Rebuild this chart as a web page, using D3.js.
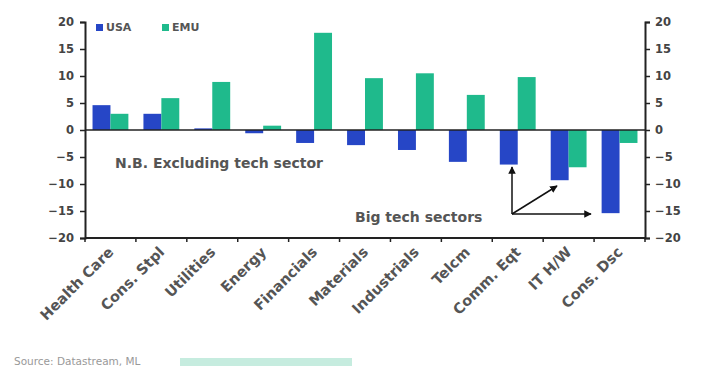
<!DOCTYPE html>
<html>
<head>
<meta charset="utf-8">
<script src="https://cdn.jsdelivr.net/npm/d3@7/dist/d3.min.js"></script>
<style>
  html, body { margin: 0; padding: 0; background: #fff; }
  svg { display: block; font-family: "DejaVu Sans", "Liberation Sans", Arial, sans-serif; }
</style>
</head>
<body>
<svg id="chart" width="704" height="370"></svg>
<script>
// Sector relative performance, USA vs EMU (%)
const sectors = ["Health Care", "Cons. Stpl", "Utilities", "Energy", "Financials",
                 "Materials", "Industrials", "Telcm", "Comm. Eqt", "IT H/W", "Cons. Dsc"];
const usaValues = [4.6, 3.0, 0.3, -0.6, -2.4, -2.8, -3.7, -5.9, -6.4, -9.3, -15.4];
const emuValues = [3.0, 5.9, 8.9, 0.8, 18.0, 9.6, 10.5, 6.5, 9.8, -6.9, -2.4];
const seriesNames = ["USA", "EMU"];
const yTicks = [20, 15, 10, 5, 0, -5, -10, -15, -20];

const colors = { USA: "#2646c6", EMU: "#1fba8c" };

const svg = d3.select("#chart");
const plot = { left: 85, right: 645, top: 22, bottom: 238 };

const x = d3.scaleBand().domain(sectors).range([plot.left, plot.right]).paddingInner(0).paddingOuter(0);
const xInner = d3.scaleBand().domain(seriesNames).range([0, x.bandwidth()]).paddingInner(0).paddingOuter(0.42);
const y = d3.scaleLinear().domain([-20, 20]).range([plot.bottom, plot.top]);

// Bars
const rows = sectors.map((s, i) => ({ sector: s, USA: usaValues[i], EMU: emuValues[i] }));
const groups = svg.append("g").selectAll("g").data(rows).join("g")
  .attr("transform", d => `translate(${x(d.sector)},0)`);
groups.selectAll("rect")
  .data(d => seriesNames.map(k => ({ key: k, value: d[k] })))
  .join("rect")
  .attr("x", d => xInner(d.key))
  .attr("width", xInner.bandwidth())
  .attr("y", d => y(Math.max(0, d.value)))
  .attr("height", d => Math.abs(y(d.value) - y(0)))
  .attr("fill", d => colors[d.key]);

// Zero line
svg.append("line")
  .attr("x1", plot.left).attr("x2", plot.right)
  .attr("y1", y(0)).attr("y2", y(0))
  .attr("stroke", "#222").attr("stroke-width", 1.5);

// Left and right value axes
const leftAxis = svg.append("g")
  .attr("transform", `translate(${plot.left},0)`)
  .call(d3.axisLeft(y).tickValues(yTicks).tickSize(5).tickFormat(d3.format("d")));
const rightAxis = svg.append("g")
  .attr("transform", `translate(${plot.right},0)`)
  .call(d3.axisRight(y).tickValues(yTicks).tickSize(5).tickFormat(d3.format("d")));
[leftAxis, rightAxis].forEach(a => {
  a.select(".domain").attr("stroke", "#222").attr("stroke-width", 2);
  a.selectAll(".tick line").attr("stroke", "#222").attr("stroke-width", 1.5);
  a.selectAll(".tick text").attr("fill", "#444").attr("font-size", 11.5).attr("font-weight", "bold")
    .attr("font-family", "DejaVu Sans, sans-serif");
});
leftAxis.selectAll(".tick text").attr("x", -11);
rightAxis.selectAll(".tick text").attr("x", 10);

// Category axis with ticks between categories
const bottom = svg.append("g").attr("transform", `translate(0,${plot.bottom})`);
bottom.append("line")
  .attr("x1", plot.left).attr("x2", plot.right)
  .attr("stroke", "#222").attr("stroke-width", 2);
const boundaries = sectors.map(s => x(s)).concat([plot.right]);
bottom.selectAll(".sep").data(boundaries).join("line")
  .attr("class", "sep")
  .attr("x1", d => d).attr("x2", d => d)
  .attr("y1", 0).attr("y2", 4)
  .attr("stroke", "#222").attr("stroke-width", 1.5);

// Rotated category labels
svg.append("g").selectAll("text").data(sectors).join("text")
  .attr("transform", d => `translate(${x(d) + x.bandwidth() / 2 + 4},${plot.bottom + 15}) rotate(-45)`)
  .attr("text-anchor", "end")
  .attr("font-size", 14.5)
  .attr("font-weight", "bold")
  .attr("fill", "#555")
  .text(d => d);

// Legend
const legend = svg.append("g").attr("transform", "translate(96,28)");
const legendItems = legend.selectAll("g").data(seriesNames).join("g")
  .attr("transform", (d, i) => `translate(${i * 66},0)`);
legendItems.append("rect").attr("x", 0).attr("y", -4).attr("width", 7).attr("height", 7)
  .attr("fill", d => colors[d]);
legendItems.append("text").attr("x", 10).attr("y", 3)
  .attr("font-size", 11).attr("font-weight", "bold").attr("fill", "#555").text(d => d);

// Annotations
svg.append("text").attr("x", 115).attr("y", 168)
  .attr("font-size", 14).attr("font-weight", "bold").attr("fill", "#555")
  .text("N.B. Excluding tech sector");
svg.append("text").attr("x", 355).attr("y", 222)
  .attr("font-size", 14).attr("font-weight", "bold").attr("fill", "#555")
  .text("Big tech sectors");

const defs = svg.append("defs");
defs.append("marker").attr("id", "arrow")
  .attr("viewBox", "0 0 10 10").attr("refX", 9).attr("refY", 5)
  .attr("markerWidth", 5).attr("markerHeight", 5).attr("orient", "auto")
  .append("path").attr("d", "M0,0 L10,5 L0,10 z").attr("fill", "#111");

const origin = [512, 214];
const targets = [[512, 167], [557, 186], [591, 214]];
svg.append("g").selectAll("line").data(targets).join("line")
  .attr("x1", origin[0]).attr("y1", origin[1])
  .attr("x2", d => d[0]).attr("y2", d => d[1])
  .attr("stroke", "#111").attr("stroke-width", 1.5)
  .attr("marker-end", "url(#arrow)");

// Footer
svg.append("text").attr("x", 14).attr("y", 365)
  .attr("font-size", 10.5).attr("fill", "#999").text("Source: Datastream, ML");
svg.append("rect").attr("x", 180).attr("y", 358).attr("width", 172).attr("height", 8)
  .attr("fill", "#c6ecdf");
</script>
</body>
</html>
